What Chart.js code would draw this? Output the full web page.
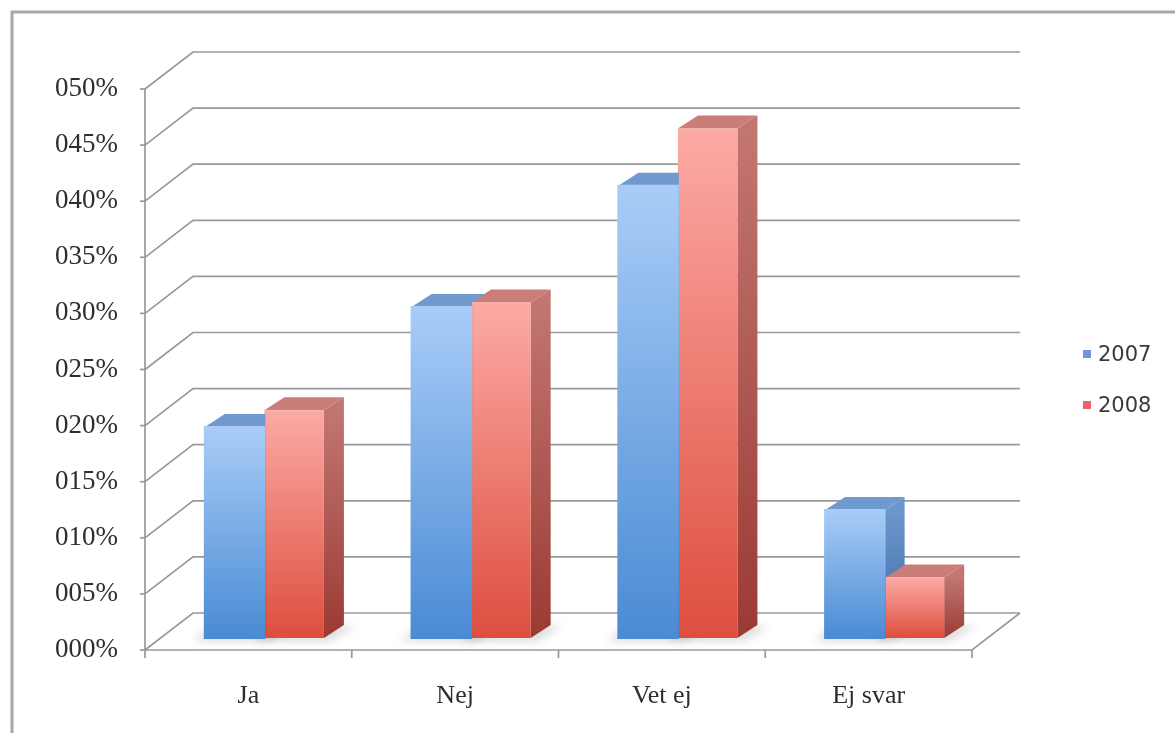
<!DOCTYPE html>
<html>
<head>
<meta charset="utf-8">
<script src="https://cdn.jsdelivr.net/npm/chart.js@4.4.0/dist/chart.umd.min.js"></script>
<style>
  html, body { margin: 0; padding: 0; background: #ffffff; }
  #wrap { width: 1175px; height: 733px; position: relative; }
</style>
</head>
<body>
<div id="wrap"><canvas id="chart"></canvas></div>
<script>
// Data (percent)
const categories = ['Ja', 'Nej', 'Vet ej', 'Ej svar'];
const seriesNames = ['2007', '2008'];
const values2007 = [18.8, 29.5, 40.3, 11.4];
const values2008 = [20.3, 29.9, 45.4, 5.4];
const tickLabels = ['000%', '005%', '010%', '015%', '020%', '025%', '030%', '035%', '040%', '045%', '050%'];

// 3D look: back wall offset and bar depth
const WALL_DX = 48, WALL_DY = 37;
const BAR_OFF_X = 16, BAR_OFF_Y = 12;
const BAR_DX = 20, BAR_DY = 13;

const palette = [
  { front: ['#a9ccf7', '#4a8bd4'], side: ['#6d96cc', '#3d69a6'], top: '#7099cf', key: '#6b98dc' },
  { front: ['#fcaaa5', '#dd4e3e'], side: ['#c27672', '#9b3a33'], top: '#cb7d77', key: '#e8636b' }
];

// vertical gradient per bar, front face
function frontFill(i) {
  return function(context) {
    const chart = context.chart;
    const y = chart.scales.y;
    if (!y || context.raw == null) return palette[i].front[1];
    const top = y.getPixelForValue(context.raw);
    const bottom = y.getPixelForValue(0);
    if (!isFinite(top) || !isFinite(bottom) || top === bottom) return palette[i].front[1];
    const g = chart.ctx.createLinearGradient(0, top, 0, bottom);
    g.addColorStop(0, palette[i].front[0]);
    g.addColorStop(1, palette[i].front[1]);
    return g;
  };
}

// projected corners of a bar box (real canvas coords)
function boxOf(bar) {
  const { x, y, width, base } = bar.getProps(['x', 'y', 'width', 'base'], true);
  return {
    l: x - width / 2 + BAR_OFF_X,
    r: x + width / 2 + BAR_OFF_X,
    t: y - BAR_OFF_Y,
    b: base - BAR_OFF_Y
  };
}

const depthPlugin = {
  id: 'depth',
  beforeDraw(chart) {
    const { ctx, chartArea: a, scales: { x, y } } = chart;
    ctx.save();
    // outer frame (only top and left visible)
    ctx.strokeStyle = '#a8a8a8';
    ctx.lineWidth = 3;
    ctx.beginPath();
    ctx.moveTo(12, 733);
    ctx.lineTo(12, 12);
    ctx.lineTo(1175, 12);
    ctx.stroke();

    // back wall gridlines + side wall diagonals
    ctx.strokeStyle = '#999999';
    ctx.lineWidth = 1.7;
    y.ticks.forEach(t => {
      const py = y.getPixelForValue(t.value);
      ctx.beginPath();
      ctx.moveTo(a.left, py);
      ctx.lineTo(a.left + WALL_DX, py - WALL_DY);
      ctx.lineTo(a.right + WALL_DX, py - WALL_DY);
      ctx.stroke();
      ctx.beginPath();
      ctx.moveTo(a.left - 5, py);
      ctx.lineTo(a.left, py);
      ctx.stroke();
    });

    // floor front edge and right edge
    ctx.beginPath();
    ctx.moveTo(a.left, a.bottom);
    ctx.lineTo(a.right, a.bottom);
    ctx.lineTo(a.right + WALL_DX, a.bottom - WALL_DY);
    ctx.stroke();

    // front value axis
    ctx.beginPath();
    ctx.moveTo(a.left, a.top);
    ctx.lineTo(a.left, a.bottom + 8);
    ctx.stroke();

    // category separators
    for (let i = 1; i <= categories.length; i++) {
      const px = x.getPixelForValue(i - 0.5);
      ctx.beginPath();
      ctx.moveTo(px, a.bottom);
      ctx.lineTo(px, a.bottom + 8);
      ctx.stroke();
    }
    ctx.restore();
  },
  beforeDatasetsDraw(chart) {
    // soft shadow on the floor
    const ctx = chart.ctx;
    ctx.save();
    ctx.filter = 'blur(4px)';
    ctx.fillStyle = 'rgba(0, 0, 0, 0.14)';
    chart.data.datasets.forEach((ds, i) => {
      chart.getDatasetMeta(i).data.forEach(bar => {
        const k = boxOf(bar);
        const l = k.l - 12, r = k.r + 6, b = k.b + 3;
        ctx.beginPath();
        ctx.moveTo(l, b);
        ctx.lineTo(r, b);
        ctx.lineTo(r + BAR_DX + 6, b - BAR_DY - 2);
        ctx.lineTo(l + BAR_DX, b - BAR_DY - 2);
        ctx.closePath();
        ctx.fill();
      });
    });
    ctx.restore();
  },
  beforeDatasetDraw(chart, args) {
    const ctx = chart.ctx;
    const c = palette[args.index];
    ctx.save();
    // Chart.js paints the last dataset first; those boxes sit to the right
    // and in front, so keep them from being painted over
    // (left edge nudged in by 1px so no seam shows between the fronts)
    ctx.beginPath();
    ctx.rect(0, 0, chart.width, chart.height);
    for (let j = args.index + 1; j < chart.data.datasets.length; j++) {
      chart.getDatasetMeta(j).data.forEach(bar => {
        const k = boxOf(bar);
        const l = k.l + 1;
        ctx.moveTo(l, k.b);
        ctx.lineTo(k.r, k.b);
        ctx.lineTo(k.r + BAR_DX, k.b - BAR_DY);
        ctx.lineTo(k.r + BAR_DX, k.t - BAR_DY);
        ctx.lineTo(l + BAR_DX, k.t - BAR_DY);
        ctx.lineTo(l, k.t);
        ctx.closePath();
      });
    }
    ctx.clip('evenodd');

    args.meta.data.forEach(bar => {
      const k = boxOf(bar);
      // right side face
      const g = ctx.createLinearGradient(0, k.t, 0, k.b);
      g.addColorStop(0, c.side[0]);
      g.addColorStop(1, c.side[1]);
      ctx.fillStyle = g;
      ctx.beginPath();
      ctx.moveTo(k.r, k.t);
      ctx.lineTo(k.r + BAR_DX, k.t - BAR_DY);
      ctx.lineTo(k.r + BAR_DX, k.b - BAR_DY);
      ctx.lineTo(k.r, k.b);
      ctx.closePath();
      ctx.fill();
      // top face
      ctx.fillStyle = c.top;
      ctx.beginPath();
      ctx.moveTo(k.l, k.t);
      ctx.lineTo(k.r, k.t);
      ctx.lineTo(k.r + BAR_DX, k.t - BAR_DY);
      ctx.lineTo(k.l + BAR_DX, k.t - BAR_DY);
      ctx.closePath();
      ctx.fill();
    });
    // front faces are drawn by Chart.js, pushed back into the floor
    ctx.translate(BAR_OFF_X, -BAR_OFF_Y);
  },
  afterDatasetDraw(chart) {
    chart.ctx.restore();
  },
  afterDraw(chart) {
    const ctx = chart.ctx;
    ctx.save();
    ctx.font = '21px "DejaVu Sans"';
    ctx.textBaseline = 'middle';
    ctx.textAlign = 'left';
    chart.data.datasets.forEach((ds, i) => {
      const ly = 356 + i * 51;
      ctx.fillStyle = palette[i].key;
      ctx.fillRect(1083, ly - 6, 8, 8);
      ctx.fillStyle = '#3a3a3a';
      ctx.fillText(ds.label, 1098, ly);
    });
    ctx.restore();
  }
};

new Chart(document.getElementById('chart'), {
  type: 'bar',
  data: {
    labels: categories,
    datasets: [
      { label: seriesNames[0], data: values2007, backgroundColor: frontFill(0), borderWidth: 0, inflateAmount: 1 },
      { label: seriesNames[1], data: values2008, backgroundColor: frontFill(1), borderWidth: 0 }
    ]
  },
  options: {
    responsive: true,
    maintainAspectRatio: false,
    animation: false,
    layout: { padding: { left: 20, right: 203, top: 89, bottom: 0 } },
    datasets: {
      bar: { categoryPercentage: 0.576, barPercentage: 1, clip: false }
    },
    plugins: {
      legend: { display: false },
      tooltip: { enabled: false }
    },
    scales: {
      x: {
        grid: { display: false, drawTicks: false },
        border: { display: false },
        ticks: {
          color: '#2e2e2e',
          padding: 31,
          font: { family: '"Liberation Serif"', size: 26 }
        },
        afterFit(scale) {
          scale.height = 83;
          scale.paddingLeft = 0;
          scale.paddingRight = 0;
        }
      },
      y: {
        min: 0,
        max: 50,
        grid: { display: false, drawTicks: false },
        border: { display: false },
        ticks: {
          stepSize: 5,
          padding: 27,
          color: '#2e2e2e',
          font: { family: '"Liberation Serif"', size: 27 },
          callback: (v) => tickLabels[Math.round(v / 5)]
        },
        afterFit(scale) {
          scale.width = 125;
          scale.paddingTop = 0;
          scale.paddingBottom = 0;
        }
      }
    }
  },
  plugins: [depthPlugin]
});
</script>
</body>
</html>
